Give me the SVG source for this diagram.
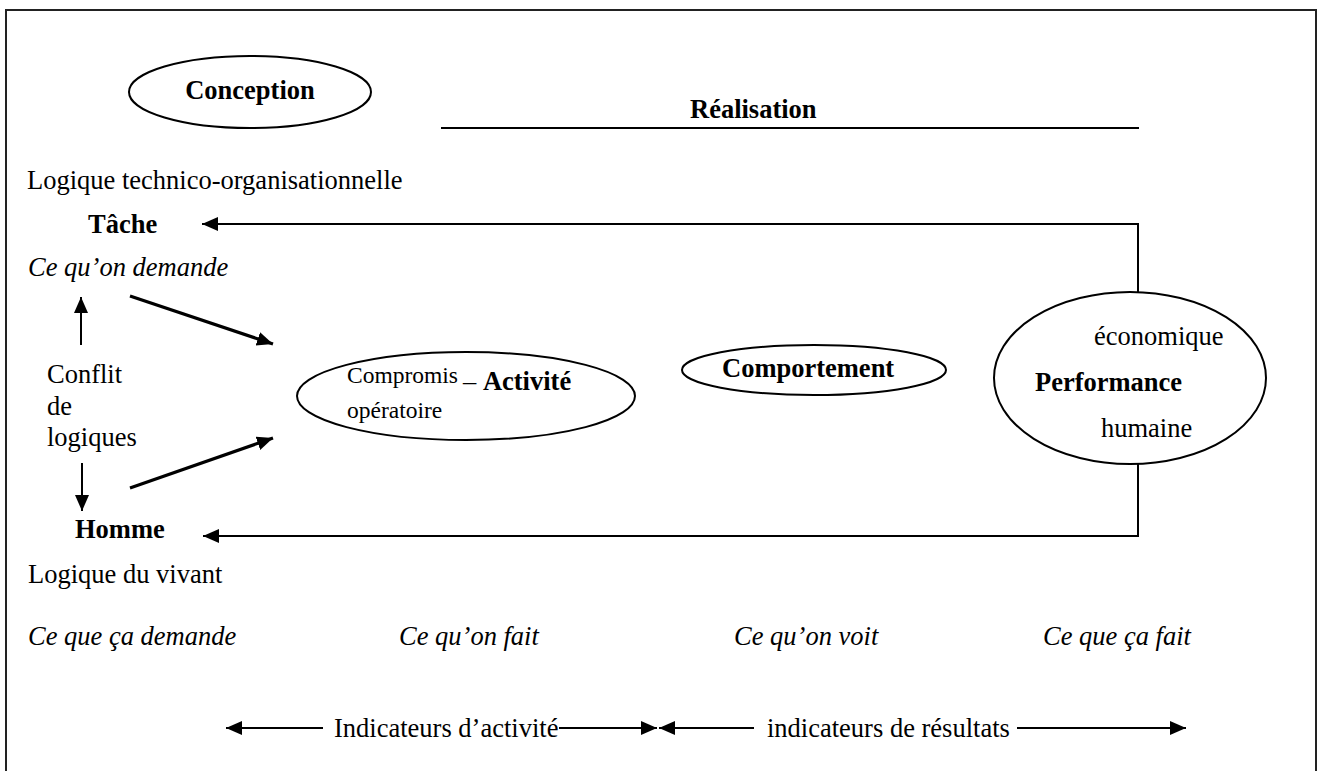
<svg xmlns="http://www.w3.org/2000/svg" width="1318" height="771" viewBox="0 0 1318 771">
<style>
  text { font-family: "Liberation Serif", "Times New Roman", serif; font-size: 26.5px; fill: #000; }
  .b { font-weight: bold; }
  .i { font-style: italic; }
  .s { font-size: 23.5px; }
  .shape { fill: none; stroke: #000; stroke-width: 2; }
  .frame { fill: none; stroke: #222; stroke-width: 2; }
  .ln { fill: none; stroke: #000; stroke-width: 2; }
  .thick { fill: none; stroke: #000; stroke-width: 3.2; }
</style>
<defs>
  <marker id="ah" markerUnits="userSpaceOnUse" markerWidth="18" markerHeight="16" refX="16" refY="7" orient="auto">
    <path d="M0,0 L16,7 L0,14 Z" fill="#000"/>
  </marker>
</defs>
<rect x="0" y="0" width="1318" height="771" fill="#fff"/>
<path class="frame" d="M6,775 V10 H1316 V775"/>

<g id="conception">
  <ellipse class="shape" cx="250" cy="92" rx="121" ry="36"/>
  <text class="b" x="250" y="99" text-anchor="middle">Conception</text>
</g>
<g id="realisation">
  <text class="b" x="690" y="118">Réalisation</text>
  <line class="ln" x1="441" y1="128" x2="1139" y2="128"/>
</g>
<g id="logique-tech">
  <text x="27" y="189">Logique technico-organisationnelle</text>
</g>
<g id="tache">
  <text class="b" x="88" y="233">Tâche</text>
</g>
<g id="ce-quon-demande">
  <text class="i" x="28" y="276">Ce qu’on demande</text>
</g>
<g id="conflit">
  <text x="47" y="383">Conflit</text>
  <text x="47" y="415">de</text>
  <text x="47" y="446">logiques</text>
</g>
<g id="activite">
  <ellipse class="shape" cx="466" cy="396" rx="169" ry="44"/>
  <text class="s" x="347" y="383">Compromis</text>
  <text class="s" x="347" y="418">opératoire</text>
  <text x="463" y="390">– <tspan class="b">Activité</tspan></text>
</g>
<g id="comportement">
  <ellipse class="shape" cx="814" cy="370" rx="132" ry="25"/>
  <text class="b" x="722" y="377">Comportement</text>
</g>
<g id="performance">
  <ellipse class="shape" cx="1130" cy="378" rx="136" ry="86"/>
  <text x="1094" y="345">économique</text>
  <text class="b" x="1035" y="391">Performance</text>
  <text x="1101" y="437">humaine</text>
</g>
<g id="homme">
  <text class="b" x="75" y="538">Homme</text>
</g>
<g id="logique-vivant">
  <text x="28" y="583">Logique du vivant</text>
</g>
<g id="bottom-labels">
  <text class="i" x="28" y="645">Ce que ça demande</text>
  <text class="i" x="399" y="645">Ce qu’on fait</text>
  <text class="i" x="734" y="645">Ce qu’on voit</text>
  <text class="i" x="1043" y="645">Ce que ça fait</text>
</g>
<g id="indicateurs">
  <text x="334" y="737">Indicateurs d’activité</text>
  <text x="767" y="737">indicateurs de résultats</text>
</g>

<g id="connectors">
  <path class="ln" d="M1138,292 V224 H202" marker-end="url(#ah)"/>
  <path class="ln" d="M1138,464 V536 H203" marker-end="url(#ah)"/>
  <line class="ln" x1="81" y1="345" x2="81" y2="297" marker-end="url(#ah)"/>
  <line class="ln" x1="82" y1="463" x2="82" y2="511" marker-end="url(#ah)"/>
  <line class="thick" x1="130" y1="296" x2="273" y2="344" marker-end="url(#ah)"/>
  <line class="thick" x1="130" y1="488" x2="273" y2="438" marker-end="url(#ah)"/>
  <line class="ln" x1="323" y1="728" x2="226" y2="728" marker-end="url(#ah)"/>
  <line class="ln" x1="559" y1="728" x2="657" y2="728" marker-end="url(#ah)"/>
  <line class="ln" x1="754" y1="728" x2="659" y2="728" marker-end="url(#ah)"/>
  <line class="ln" x1="1017" y1="728" x2="1186" y2="728" marker-end="url(#ah)"/>
</g>
</svg>
